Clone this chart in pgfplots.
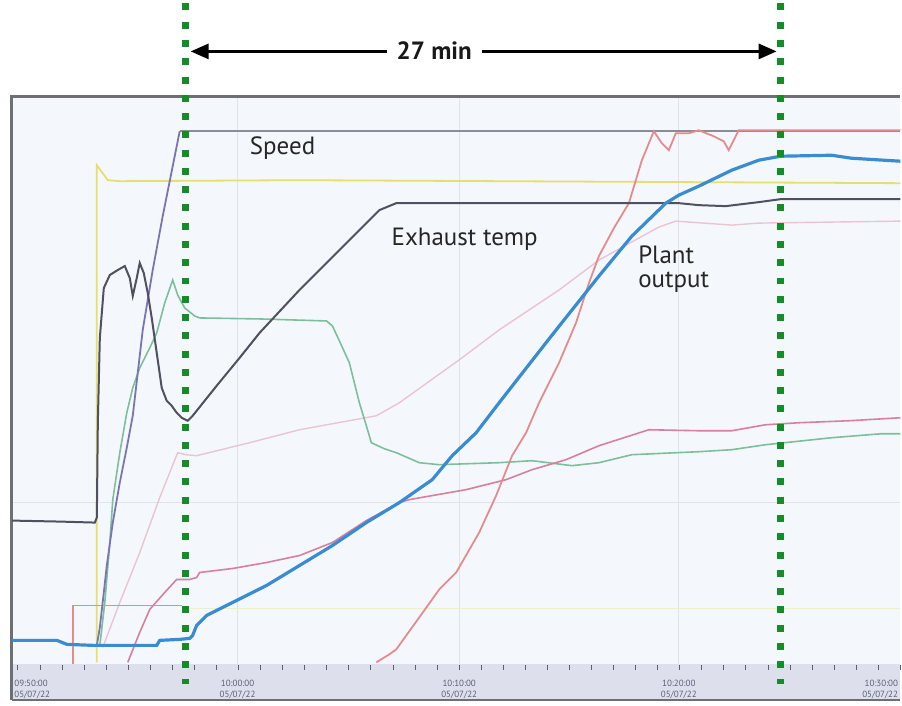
\documentclass[border=0pt]{standalone}
\usepackage{fontspec}
\setmainfont{PT Sans}
\usepackage{pgfplots}
\pgfplotsset{compat=1.18}
\usetikzlibrary{arrows.meta}

\definecolor{panelbg}{RGB}{244,248,252}
\definecolor{bandbg}{RGB}{221,224,236}
\definecolor{framec}{RGB}{110,110,115}
\definecolor{gridc}{RGB}{222,227,236}
\definecolor{dotgreen}{RGB}{22,140,40}
\definecolor{exhaustc}{RGB}{80,80,95}
\definecolor{speedc}{RGB}{120,118,178}
\definecolor{speedset}{RGB}{140,140,150}
\definecolor{tealc}{RGB}{125,190,155}
\definecolor{yellowc}{RGB}{232,222,110}
\definecolor{yellowfaint}{RGB}{236,240,200}
\definecolor{redc}{RGB}{228,140,140}
\definecolor{magc}{RGB}{214,128,158}
\definecolor{pinkc}{RGB}{234,196,208}
\definecolor{bluec}{RGB}{58,140,210}
\definecolor{bandtext}{RGB}{90,95,115}

\begin{document}
\begin{tikzpicture}
\begin{axis}[
  scale only axis,
  width=451pt, height=351pt,
  xmin=0, xmax=902, ymin=0, ymax=702,
  y dir=reverse,
  hide axis,
  clip=false,
]
% panel and time band
\fill[white] (axis cs:0,0) rectangle (axis cs:902,702);
\fill[panelbg] (axis cs:12,93) rectangle (axis cs:902,662);
\fill[bandbg] (axis cs:12,662) rectangle (axis cs:902,698);
\draw[gridc, line width=0.6pt] (axis cs:238,93) -- (axis cs:238,662);
\draw[gridc, line width=0.6pt] (axis cs:460,93) -- (axis cs:460,662);
\draw[gridc, line width=0.6pt] (axis cs:680,93) -- (axis cs:680,662);
\draw[gridc, line width=0.5pt] (axis cs:12,500) -- (axis cs:902,500);
\pgfplotsinvokeforeach{0,...,40}{
  \draw[bandtext, line width=0.5pt] (axis cs:{18+22.1*#1},663) -- (axis cs:{18+22.1*#1},668);
}
\draw[framec, line width=1.5pt] (axis cs:12,698) -- (axis cs:12,93) -- (axis cs:902,93);
\draw[framec, line width=1pt] (axis cs:12,698) -- (axis cs:902,698);

\node[font=\fontsize{4.5}{5.5}\selectfont, text=bandtext, align=left, anchor=west, inner sep=0] at (axis cs:14,687) {09:50:00\\05/07/22};
\node[font=\fontsize{4.5}{5.5}\selectfont, text=bandtext, align=center] at (axis cs:238,687) {10:00:00\\05/07/22};
\node[font=\fontsize{4.5}{5.5}\selectfont, text=bandtext, align=center] at (axis cs:460,687) {10:10:00\\05/07/22};
\node[font=\fontsize{4.5}{5.5}\selectfont, text=bandtext, align=center] at (axis cs:680,687) {10:20:00\\05/07/22};
\node[font=\fontsize{4.5}{5.5}\selectfont, text=bandtext, align=right, anchor=east, inner sep=0] at (axis cs:900,687) {10:30:00\\05/07/22};

% faint lower yellow
\addplot[yellowfaint, line width=0.8pt, no markers] coordinates {(190,606) (902,606)};
% pink faint
\addplot[pinkc, line width=0.7pt, no markers] coordinates {
(103,645) (120,600) (140,550) (160,495) (178,450) (186,452) (197,453) (250,440)
(300,427) (377,413) (400,400) (460,357) (500,327) (560,287) (600,257) (640,235)
(660,224) (677,218) (733,222) (760,220) (902,218)};
% yellow
\addplot[yellowc, line width=0.9pt, no markers] coordinates {
(97,660) (97,162) (108,177) (120,178) (300,177) (902,180)};
% speed setpoint
\addplot[speedset, line width=0.9pt, no markers] coordinates {(180,128) (902,128)};
% red step
\addplot[redc, line width=0.8pt, no markers] coordinates {(73,662) (73,603) (182,603)};
% teal
\addplot[tealc, line width=0.8pt, no markers] coordinates {
(100,643) (105,600) (110,540) (113,497) (120,450) (127,410) (133,385) (140,365)
(150,345) (157,330) (165,300) (173,277) (178,292) (185,305) (195,313) (200,315)
(260,316) (327,318) (333,323) (340,338) (350,360) (360,400) (367,423) (372,440)
(385,446) (397,450) (420,460) (440,462) (500,460) (533,458) (573,463) (600,460)
(633,452) (700,449) (733,447) (767,442) (833,435) (883,431) (902,431)};
% magenta lower
\addplot[magc, line width=0.8pt, no markers] coordinates {
(128,660) (140,630) (150,607) (165,590) (177,577) (190,577) (197,575) (200,570)
(233,566) (267,560) (300,553) (333,540) (367,518) (400,500) (410,497) (467,487)
(507,477) (533,467) (567,457) (600,443) (650,427) (700,428) (733,428) (767,422)
(800,420) (850,418) (902,415)};
% red steep
\addplot[redc, line width=0.9pt, no markers] coordinates {
(377,660) (390,652) (397,647) (420,615) (440,587) (457,570) (480,530) (497,493)
(513,453) (527,430) (540,400) (560,360) (577,320) (590,280) (600,253) (615,225)
(630,200) (643,157) (655,128) (663,140) (670,147) (677,130) (690,130) (700,127)
(715,133) (725,138) (730,147) (736,135) (740,127) (800,127) (902,127)};
% speed
\addplot[speedc, line width=0.9pt, no markers] coordinates {
(97,643) (100,625) (104,590) (107,563) (113,520) (120,480) (127,445) (133,413)
(143,327) (153,267) (163,213) (173,163) (178,138) (180,128)};
% exhaust temp
\addplot[exhaustc, line width=1pt, no markers] coordinates {
(12,518) (60,519) (95,520) (97,515) (98,420) (100,335) (104,285) (110,272)
(118,267) (125,263) (130,275) (133,293) (137,275) (140,260) (144,270) (148,290)
(152,315) (157,350) (162,385) (167,398) (172,403) (177,410) (182,415) (188,418)
(193,413) (205,398) (217,383) (240,355) (260,330) (300,287) (340,247) (380,207)
(397,200) (500,200) (600,200) (680,200) (700,202) (727,203) (760,199) (782,196)
(902,196)};
% plant output
\addplot[bluec, line width=1.6pt, no markers] coordinates {
(12,638) (57,638) (67,642) (93,643) (157,643) (160,638) (180,637) (190,636)
(193,633) (197,623) (207,613) (233,600) (267,583) (300,563) (333,543) (367,520)
(400,500) (433,477) (453,453) (477,430) (500,400) (550,336) (600,273) (633,233)
(667,200) (680,192) (700,183) (733,167) (760,157) (782,153) (833,152) (853,155)
(902,158)};

% markers of the 27 min span
\draw[dotgreen, line width=3.5pt, dash pattern=on 3.5pt off 5.65pt] (axis cs:186,0) -- (axis cs:186,682);
\draw[dotgreen, line width=3.5pt, dash pattern=on 3.5pt off 5.65pt] (axis cs:782,0) -- (axis cs:782,682);
\draw[-{Triangle[length=9pt,width=7.5pt]}, line width=1.5pt] (axis cs:388,48) -- (axis cs:191,48);
\draw[-{Triangle[length=9pt,width=7.5pt]}, line width=1.5pt] (axis cs:483,48) -- (axis cs:778,48);

\node[anchor=base, inner sep=0, font=\fontsize{12.5}{15}\selectfont\bfseries, text=black!90] at (axis cs:435,56) {27 min};
\node[anchor=base west, inner sep=0, font=\fontsize{12.5}{15}\selectfont, text=black!85] at (axis cs:250,151) {Speed};
\node[anchor=base west, inner sep=0, font=\fontsize{12.5}{15}\selectfont, text=black!85] at (axis cs:392,242) {Exhaust temp};
\node[anchor=base west, inner sep=0, font=\fontsize{12.5}{15}\selectfont, text=black!85] at (axis cs:639,260) {Plant};
\node[anchor=base west, inner sep=0, font=\fontsize{12.5}{15}\selectfont, text=black!85] at (axis cs:639,285) {output};
\end{axis}
\end{tikzpicture}
\end{document}
